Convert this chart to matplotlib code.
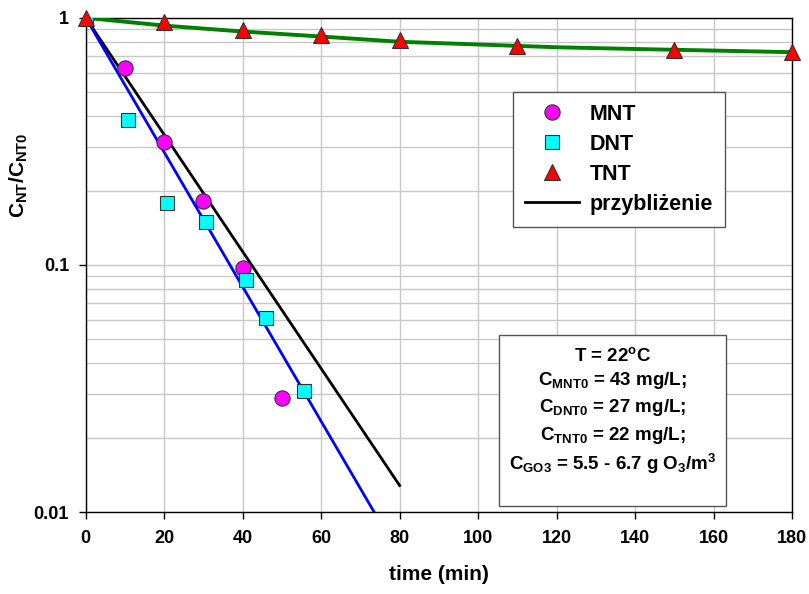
import matplotlib
matplotlib.use("Agg")
import matplotlib.pyplot as plt
from matplotlib.lines import Line2D
from matplotlib.patches import Rectangle

# ─────────────────────────────────────────────
# DATA
# ─────────────────────────────────────────────
mnt_t = [0, 10, 20, 30, 40, 50]
mnt_c = [1.0, 0.627, 0.315, 0.182, 0.097, 0.029]

dnt_t = [0, 10.7, 20.7, 30.6, 40.8, 45.9, 55.6]
dnt_c = [1.0, 0.386, 0.178, 0.149, 0.087, 0.061, 0.031]

tnt_t = [0, 20, 40, 60, 80, 110, 150, 180]
tnt_c = [1.0, 0.963, 0.894, 0.853, 0.814, 0.77, 0.742, 0.73]

# fitted lines ("przybliżenie")
fit_t = [0, 80]
mnt_fit = [1.0, 0.0128]
dnt_fit = [1.0, 0.00665]
tnt_fit_t = [0, 20, 40, 60, 80, 100, 120, 140, 160, 180]
tnt_fit = [1.0, 0.93, 0.88, 0.84, 0.80, 0.78, 0.76, 0.748, 0.737, 0.726]

x_ticks = [0, 20, 40, 60, 80, 100, 120, 140, 160, 180]
y_ticks = [0.01, 0.1, 1]
y_tick_labels = ["0.01", "0.1", "1"]

legend_labels = ["MNT", "DNT", "TNT", "przybliżenie"]

info_lines = [
    r"T = 22$^{\mathbf{o}}$C",
    r"C$_{\mathbf{MNT0}}$ = 43 mg/L;",
    r"C$_{\mathbf{DNT0}}$ = 27 mg/L;",
    r"C$_{\mathbf{TNT0}}$ = 22 mg/L;",
    r"C$_{\mathbf{GO3}}$ = 5.5 - 6.7 g O$_{\mathbf{3}}$/m$^{\mathbf{3}}$",
]

# ─────────────────────────────────────────────
# STYLE
# ─────────────────────────────────────────────
plt.rcParams["font.family"] = ["Liberation Sans", "DejaVu Sans"]
plt.rcParams["font.weight"] = "bold"
plt.rcParams["mathtext.fontset"] = "custom"
plt.rcParams["mathtext.rm"] = "Liberation Sans:bold"
plt.rcParams["mathtext.bf"] = "Liberation Sans:bold"
plt.rcParams["mathtext.it"] = "Liberation Sans:bold"

fig = plt.figure(figsize=(8.09, 5.94), dpi=100)
ax = fig.add_axes([0.106, 0.138, 0.873, 0.832])

# fit lines
ax.plot(fit_t, mnt_fit, color="black", lw=2, zorder=3)
ax.plot(fit_t, dnt_fit, color="#0000ff", lw=2, zorder=3)
ax.plot(tnt_fit_t, tnt_fit, color="#008000", lw=2.8, zorder=3)

# measured points
ax.plot(mnt_t, mnt_c, "o", ms=11, mfc="#ff00ff", mec="#333333", mew=0.8, zorder=4)
ax.plot(dnt_t, dnt_c, "s", ms=10, mfc="#00ffff", mec="#333333", mew=0.8, zorder=4)
ax.plot(tnt_t, tnt_c, "^", ms=11, mfc="#ff0000", mec="#333333", mew=0.8, zorder=5,
        clip_on=False)

ax.set_yscale("log")
ax.set_xlim(0, 180)
ax.set_ylim(0.01, 1)
ax.set_xticks(x_ticks)
ax.set_yticks(y_ticks)
ax.set_yticklabels(y_tick_labels)
ax.tick_params(axis="both", labelsize=13, direction="out", length=5, width=1)
ax.tick_params(axis="x", pad=8)
ax.tick_params(axis="y", pad=7)
ax.tick_params(axis="y", which="minor", length=0)
for lab in ax.get_xticklabels() + ax.get_yticklabels():
    lab.set_fontweight("bold")

ax.grid(True, which="both", color="#c8c8c8", lw=1)
ax.set_axisbelow(True)
for sp in ax.spines.values():
    sp.set_linewidth(1)

ax.set_xlabel("time (min)", fontsize=15, fontweight="bold")
ax.xaxis.set_label_coords(0.5, -0.108)
ax.set_ylabel(r"C$_{\mathbf{NT}}$/C$_{\mathbf{NT0}}$", fontsize=15, fontweight="bold")
ax.yaxis.set_label_coords(-0.079, 0.682)

# legend
handles = [
    Line2D([], [], ls="", marker="o", ms=11, mfc="#ff00ff", mec="#333333", mew=0.8),
    Line2D([], [], ls="", marker="s", ms=10, mfc="#00ffff", mec="#333333", mew=0.8),
    Line2D([], [], ls="", marker="^", ms=11, mfc="#ff0000", mec="#333333", mew=0.8),
    Line2D([], [], color="black", lw=2),
]
leg = ax.legend(handles, legend_labels,
                loc="upper left", bbox_to_anchor=(0.605, 0.850), borderaxespad=0,
                fancybox=False, framealpha=1, edgecolor="#555555",
                prop={"size": 15.5, "weight": "bold"},
                handlelength=2.5, labelspacing=0.42, borderpad=0.55, handletextpad=0.5)
leg.get_frame().set_linewidth(1)

# info box
ax.add_patch(Rectangle((0.585, 0.012), 0.322, 0.346, transform=ax.transAxes,
                       fill=True, fc="white", ec="#555555", lw=1, zorder=6))
info_y = [0.306, 0.257, 0.202, 0.146, 0.085]
for txt, yy in zip(info_lines, info_y):
    ax.text(0.746, yy, txt, transform=ax.transAxes, ha="center", va="baseline",
            fontsize=13.5, fontweight="bold", zorder=7)

fig.savefig("out.png", dpi=100)
